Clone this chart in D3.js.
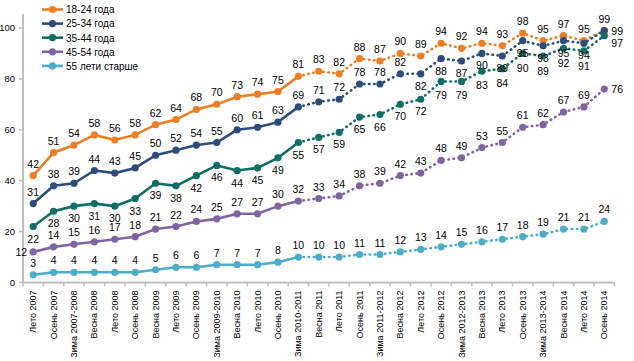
<!DOCTYPE html>
<html>
<head>
<meta charset="utf-8">
<script src="https://cdn.jsdelivr.net/npm/d3@7"></script>
<style>
  body { margin: 0; background: #fff; }
  text { font-family: Arial, "Liberation Sans", sans-serif; fill: #000; }
  .xlab { font-family: "Liberation Sans Narrow", "Arial Narrow", Arial, sans-serif; }
</style>
</head>
<body>
<script>
// периоды опроса
const periods = ['Лето 2007', 'Осень 2007', 'Зима 2007-2008', 'Весна 2008', 'Лето 2008', 'Осень 2008',
  'Весна 2009', 'Лето 2009', 'Осень 2009', 'Зима 2009-2010', 'Весна 2010', 'Лето 2010', 'Осень 2010',
  'Зима 2010-2011', 'Весна 2011', 'Лето 2011', 'Осень 2011', 'Зима 2011-2012', 'Весна 2012', 'Лето 2012',
  'Осень 2012', 'Зима 2012-2013', 'Весна 2013', 'Лето 2013', 'Осень 2013', 'Зима 2013-2014', 'Весна 2014',
  'Лето 2014', 'Осень 2014']

const age18 = [42, 51, 54, 58, 56, 58, 62, 64, 68, 70, 73, 74, 75, 81, 83, 82, 88, 87, 90, 89, 94, 92, 94, 93, 98, 95, 97, 95, 99]
const age25 = [31, 38, 39, 44, 43, 45, 50, 52, 54, 55, 60, 61, 63, 69, 71, 72, 78, 78, 82, 82, 88, 87, 90, 89, 95, 93, 95, 94, 99]
const age35 = [22, 28, 30, 31, 30, 33, 39, 38, 42, 46, 44, 45, 49, 55, 57, 59, 65, 66, 70, 72, 79, 79, 83, 84, 90, 89, 92, 91, 97]
const age45 = [12, 14, 15, 16, 17, 18, 21, 22, 24, 25, 27, 27, 30, 32, 33, 34, 38, 39, 42, 43, 48, 49, 53, 55, 61, 62, 67, 69, 76]
const age55 = [3, 4, 4, 4, 4, 4, 5, 6, 6, 7, 7, 7, 8, 10, 10, 10, 11, 11, 12, 13, 14, 15, 16, 17, 18, 19, 21, 21, 24]

const yTicks = [0, 20, 40, 60, 80, 100]
const solidUntil = 13 // индекс последней точки сплошной линии

// label(i) -> [положение подписи, сдвиг по y]
const series = [
  { name: '18-24 года', values: age18, color: '#EE7E22', label: i => ['above', 0] },
  { name: '25-34 года', values: age25, color: '#2C4D7C',
    label: i => i == 28 ? ['right', 0] : (i < 19 ? ['above', 0] : ['below', 0]) },
  { name: '35-44 года', values: age35, color: '#0F6F68',
    label: i => i == 28 ? ['right', 7] : ['below', i >= 24 ? 3 : (i >= 20 ? 2 : 0)] },
  { name: '45-54 года', values: age45, color: '#8064A2',
    label: i => i == 0 ? ['left', 0] : (i == 28 ? ['right', 0] : ['above', 0]) },
  { name: '55 лети старше', values: age55, color: '#4BADC8', label: i => ['above', 0] }
]

let w = 634,
    h = 361
const margin = { left: 23, right: 19.5, top: 14, bottom: 78.5 }

let svg = d3.select('body').append('svg')
  .attr('width', w)
  .attr('height', h)

let x = d3.scaleBand().domain(periods).range([margin.left, w - margin.right])
let y = d3.scaleLinear().domain([0, 105.5]).range([h - margin.bottom, margin.top])
let cx = d => x(d) + x.bandwidth() / 2

// оси
let xAxis = svg.append('g')
  .attr('transform', 'translate(0,' + y(0) + ')')
xAxis.append('line')
  .attr('x1', margin.left).attr('x2', w - margin.right)
  .attr('stroke', '#bfbfbf').attr('stroke-width', 2)
xAxis.selectAll('.tick')
  .data(d3.range(periods.length + 1))
  .enter().append('line')
  .attr('x1', i => margin.left + i * x.bandwidth())
  .attr('x2', i => margin.left + i * x.bandwidth())
  .attr('y1', 0).attr('y2', 4)
  .attr('stroke', '#bfbfbf').attr('stroke-width', 1.5)
xAxis.selectAll('.xlab')
  .data(periods)
  .enter().append('text')
  .attr('class', 'xlab')
  .attr('text-anchor', 'end')
  .attr('font-size', 9)
  .attr('transform', d => 'translate(' + (cx(d) + 3) + ',8) rotate(-90)')
  .text(d => d)

let yAxis = svg.append('g')
yAxis.append('line')
  .attr('x1', margin.left).attr('x2', margin.left)
  .attr('y1', y(0)).attr('y2', margin.top)
  .attr('stroke', '#bfbfbf').attr('stroke-width', 2)
yAxis.selectAll('.ytick')
  .data(yTicks)
  .enter().append('line')
  .attr('x1', margin.left - 4).attr('x2', margin.left)
  .attr('y1', d => y(d)).attr('y2', d => y(d))
  .attr('stroke', '#bfbfbf').attr('stroke-width', 1.5)
yAxis.selectAll('.ylab')
  .data(yTicks)
  .enter().append('text')
  .attr('text-anchor', 'end')
  .attr('font-size', 9.5)
  .attr('x', margin.left - 8)
  .attr('y', d => y(d) + 3.5)
  .text(d => d)

let line = d3.line().x(d => cx(d.p)).y(d => y(d.v))

series.forEach(s => {
  let pts = s.values.map((v, i) => ({ p: periods[i], v: v, i: i }))
  let g = svg.append('g')
  g.append('path')
    .attr('d', line(pts.slice(0, solidUntil + 1)))
    .attr('fill', 'none').attr('stroke', s.color).attr('stroke-width', 2.6)
  g.append('path')
    .attr('d', line(pts.slice(solidUntil)))
    .attr('fill', 'none').attr('stroke', s.color).attr('stroke-width', 2.6)
    .attr('stroke-linecap', 'round')
    .attr('stroke-dasharray', '0.5 4.6')
  g.selectAll('circle')
    .data(pts)
    .enter().append('circle')
    .attr('cx', d => cx(d.p)).attr('cy', d => y(d.v))
    .attr('r', 3.6).attr('fill', s.color)
  s.pts = pts
})

// подписи значений
series.forEach(s => {
  svg.append('g').selectAll('text')
    .data(s.pts)
    .enter().append('text')
    .attr('font-size', 10.5)
    .attr('text-anchor', d => {
      let pos = s.label(d.i)[0]
      return pos == 'right' ? 'start' : (pos == 'left' ? 'end' : 'middle')
    })
    .attr('x', d => {
      let pos = s.label(d.i)[0]
      return cx(d.p) + (pos == 'right' ? 7 : (pos == 'left' ? -6 : 0))
    })
    .attr('y', d => {
      let [pos, dy] = s.label(d.i)
      if (pos == 'above') return y(d.v) - 8 + dy
      if (pos == 'below') return y(d.v) + 16 + dy
      return y(d.v) + 4 + dy
    })
    .text(d => d.v)
})

// легенда
let legend = svg.append('g').selectAll('g')
  .data(series)
  .enter().append('g')
  .attr('transform', (d, i) => 'translate(42,' + (9.5 + i * 14.1) + ')')
legend.append('line')
  .attr('x1', 0).attr('x2', 21)
  .attr('stroke', d => d.color).attr('stroke-width', 2.6)
legend.append('circle')
  .attr('cx', 10.5).attr('r', 3.6).attr('fill', d => d.color)
legend.append('text')
  .attr('x', 24).attr('y', 3.8)
  .attr('font-size', 10)
  .text(d => d.name)
</script>
</body>
</html>
